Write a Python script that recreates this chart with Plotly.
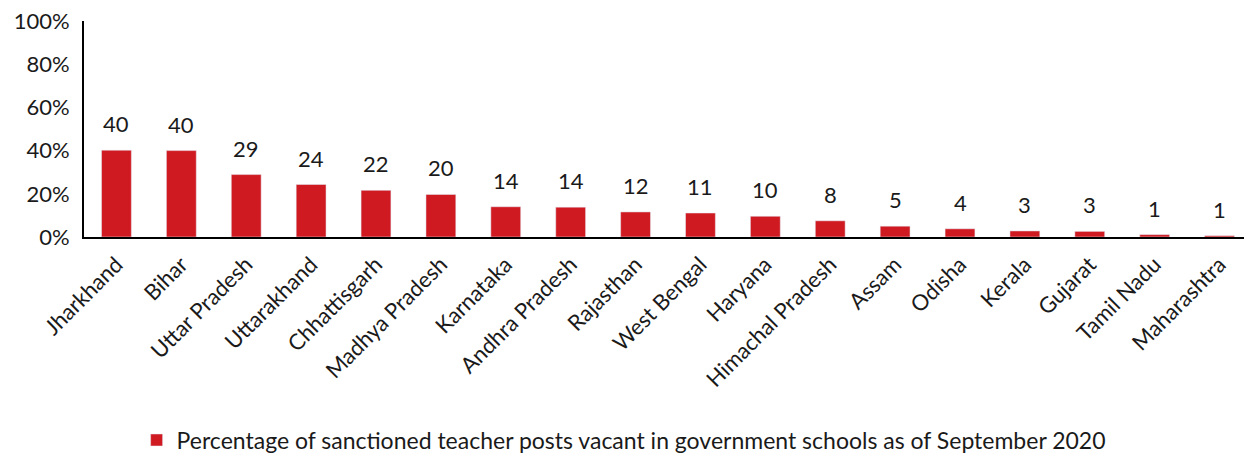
import plotly.graph_objects as go

states = ["Jharkhand", "Bihar", "Uttar Pradesh", "Uttarakhand", "Chhattisgarh",
          "Madhya Pradesh", "Karnataka", "Andhra Pradesh", "Rajasthan", "West Bengal",
          "Haryana", "Himachal Pradesh", "Assam", "Odisha", "Kerala", "Gujarat",
          "Tamil Nadu", "Maharashtra"]
vacancy = [40.2, 40.0, 28.9, 24.3, 21.6, 19.7, 14.0, 13.8, 11.6, 11.1,
           9.6, 7.5, 5.0, 3.8, 2.8, 2.6, 1.1, 0.6]
labels = ["40", "40", "29", "24", "22", "20", "14", "14", "12", "11",
          "10", "8", "5", "4", "3", "3", "1", "1"]
y_ticks = [0, 20, 40, 60, 80, 100]
y_tick_labels = ["0%", "20%", "40%", "60%", "80%", "100%"]

FONT = "Lato"
RED = "#D01A21"
TXT = "#1a1a1a"

fig = go.Figure()
fig.add_trace(go.Bar(
    x=states, y=vacancy, marker_color=RED,
    name="Percentage of sanctioned teacher posts vacant in government schools as of September 2020",
))
for s, v, t in zip(states, vacancy, labels):
    fig.add_annotation(x=s, y=v, text=t, showarrow=False, yanchor="bottom",
                       yshift=11, font=dict(family=FONT, size=22, color=TXT))

fig.update_layout(
    width=1244, height=454,
    margin=dict(l=76, r=0, t=13, b=225),
    paper_bgcolor="white", plot_bgcolor="white",
    bargap=0.54,
    font=dict(family=FONT, size=22, color=TXT),
    showlegend=True,
    legend=dict(orientation="h", x=0.462, xanchor="center", y=-0.94, yanchor="middle",
                font=dict(family=FONT, size=23, color=TXT)),
)
fig.update_xaxes(tickangle=-45, showline=True, linecolor="black", linewidth=2,
                 ticks="", automargin=False, ticklabelstandoff=4,
                 tickfont=dict(family=FONT, size=22, color=TXT))
fig.update_yaxes(range=[0, 100], tickmode="array", tickvals=y_ticks, ticktext=y_tick_labels,
                 showgrid=False, zeroline=False, showline=True, linecolor="black",
                 linewidth=2, ticks="", automargin=False, ticklabelstandoff=8,
                 ticklabeloverflow="allow",
                 tickfont=dict(family=FONT, size=22, color=TXT))

fig.write_html("out.html")
